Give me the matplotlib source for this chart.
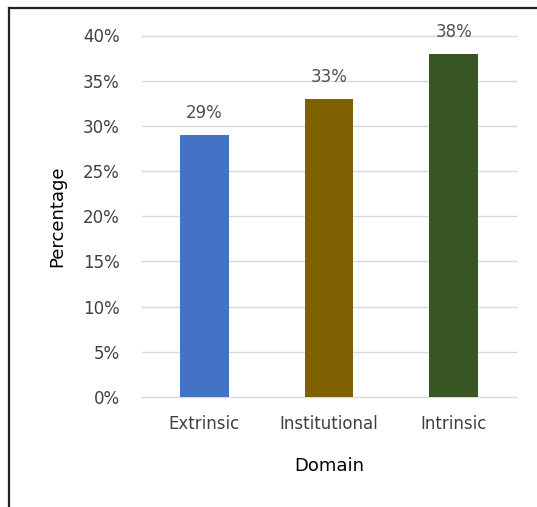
import matplotlib
matplotlib.use("Agg")
import matplotlib.pyplot as plt
from matplotlib.lines import Line2D
from matplotlib.ticker import FuncFormatter, MultipleLocator

categories = ["Extrinsic", "Institutional", "Intrinsic"]
values = [0.29, 0.33, 0.38]
labels = ["29%", "33%", "38%"]
colors = ["#4472C4", "#7F6000", "#375623"]

plt.rcParams['font.family'] = ['DejaVu Sans']

W, H = 537, 507
fig = plt.figure(figsize=(W/100, H/100), dpi=100)
ax = fig.add_axes([142/W, 1-397/H, (516-142)/W, (397-35.5)/H])

x = range(len(categories))
ax.bar(x, values, width=0.39, color=colors, zorder=3)
for xi, v, lab in zip(x, values, labels):
    ax.annotate(lab, (xi, v), xytext=(0, 9), textcoords='offset points',
                ha='center', va='bottom', fontsize=12, color='#505050')

ax.set_ylim(0, 0.40)
ax.set_xlim(-0.5, 2.5)
ax.yaxis.set_major_locator(MultipleLocator(0.05))
ax.yaxis.set_major_formatter(FuncFormatter(lambda v, p: f"{round(v*100)}%"))
ax.set_xticks(list(x))
ax.set_xticklabels(categories)
ax.grid(axis='y', color='#D9D9D9', linewidth=1, zorder=0)
for gl in ax.get_ygridlines():
    gl.set_clip_on(False)
for s in ax.spines.values():
    s.set_visible(False)
ax.tick_params(axis='both', length=0, labelsize=12, labelcolor='#404040')
ax.tick_params(axis='y', pad=16)
ax.tick_params(axis='x', pad=13)
ax.set_ylabel("Percentage", fontsize=13, color='#000000', labelpad=12)
ax.set_xlabel("Domain", fontsize=13, color='#000000', labelpad=17)

fig.add_artist(Line2D([9/W, 9/W], [0, 1-8/H], transform=fig.transFigure, color='#222222', linewidth=1.6))
fig.add_artist(Line2D([9/W, 1], [1-8/H, 1-8/H], transform=fig.transFigure, color='#222222', linewidth=1.6))

fig.savefig("out.png", dpi=100)
